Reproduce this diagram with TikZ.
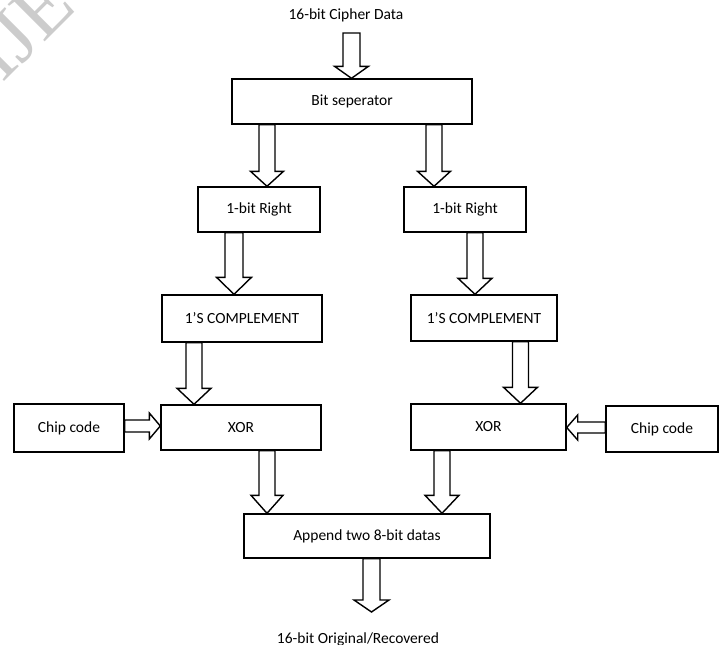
\documentclass[tikz,border=0pt]{standalone}
\usepackage{fontspec}
\setmainfont{Carlito}
\newfontfamily\wmfont{Liberation Serif}
\usetikzlibrary{calc}
\tikzset{
  blk/.style={draw=black, line width=1.4pt, fill=white, line join=miter},
  box/.style={draw=black, line width=1.4pt, fill=white, inner sep=0pt,
    font=\fontsize{15.5}{18}\selectfont},
  lbl/.style={inner sep=0pt, font=\fontsize{15.5}{18}\selectfont},
  wm/.style={inner sep=0pt, text=black!20, font=\fontsize{80}{80}\selectfont\wmfont}
}
% vertical block arrow: #1 centre x, #2 start point, #3 tip point, #4 half shaft, #5 half head, #6 head length
\newcommand\varr[6]{%
  \draw[blk] let \p1=#2, \p2=#3 in
    (#1pt-#4pt,\y1) -- (#1pt-#4pt,\y2+#6pt) -- (#1pt-#5pt,\y2+#6pt) -- (#1pt,\y2)
    -- (#1pt+#5pt,\y2+#6pt) -- (#1pt+#4pt,\y2+#6pt) -- (#1pt+#4pt,\y1) -- cycle;}
% horizontal block arrow: #1 centre y (pixels, downwards), #2 start, #3 tip, #4 half shaft, #5 half head, #6 signed head length
\newcommand\harr[6]{%
  \draw[blk] let \p1=#2, \p2=#3 in
    (\x1,-#1pt+#4pt) -- (\x2-#6pt,-#1pt+#4pt) -- (\x2-#6pt,-#1pt+#5pt) -- (\x2,-#1pt)
    -- (\x2-#6pt,-#1pt-#5pt) -- (\x2-#6pt,-#1pt-#4pt) -- (\x1,-#1pt-#4pt) -- cycle;}
\begin{document}
\begin{tikzpicture}[x=1pt,y=-1pt]
\useasboundingbox (0,0) rectangle (723,645);
\clip (0,0) rectangle (723,645);
\fill[white] (0,0) rectangle (723,645);
% watermark fragment
\node[wm, rotate=45] (wmark) at (22,28) {IJE};

% nodes
\node[lbl] (in) at (346,15) {16-bit Cipher Data};
\coordinate (intop) at (351.5,33);
\node[box, minimum width=240pt, minimum height=45pt] (sep) at (352,101.5) {Bit seperator};
\node[box, minimum width=122pt, minimum height=45pt] (r1) at (259,209.5) {1-bit Right};
\node[box, minimum width=122pt, minimum height=45pt] (r2) at (465,209.5) {1-bit Right};
\node[box, minimum width=160pt, minimum height=47pt] (c1) at (242,318.5) {1'S COMPLEMENT};
\node[box, minimum width=146pt, minimum height=46pt] (c2) at (484,318) {1'S COMPLEMENT};
\node[box, minimum width=160pt, minimum height=45pt] (x1) at (241,427.5) {XOR};
\node[box, minimum width=155pt, minimum height=46pt] (x2) at (488.5,427) {XOR};
\node[box, minimum width=110pt, minimum height=48pt] (cc1) at (69,428) {Chip code};
\node[box, minimum width=112pt, minimum height=46pt] (cc2) at (662,429) {Chip code};
\node[box, minimum width=246pt, minimum height=44pt] (ap) at (367,536) {Append two 8-bit datas};
\coordinate (outtip) at (371.5,612);
\node[lbl, anchor=base] (out) at (358,643) {16-bit Original/Recovered};

% connectors
\varr{351.5}{(intop)}{(sep.north)}{8.5}{17}{12}
\varr{267}{(sep.south)}{(r1.north)}{8}{16.5}{15}
\varr{434}{(sep.south)}{(r2.north)}{8}{16.5}{15}
\varr{234}{(r1.south)}{(c1.north)}{9}{17.5}{17}
\varr{475}{(r2.south)}{(c2.north)}{8}{17}{16}
\varr{194}{(c1.south)}{(x1.north)}{8}{17}{16}
\varr{520.5}{(c2.south)}{(x2.north)}{8}{17}{16}
\varr{267}{(x1.south)}{(ap.north)}{8}{16}{18}
\varr{442}{(x2.south)}{(ap.north)}{8}{17}{18}
\varr{371.5}{(ap.south)}{(outtip)}{8.5}{17.5}{12}
\harr{426}{(cc1.east)}{(x1.west)}{6}{13}{11}
\harr{427.5}{(cc2.west)}{(x2.east)}{5.5}{12.5}{-11}
\end{tikzpicture}
\end{document}
